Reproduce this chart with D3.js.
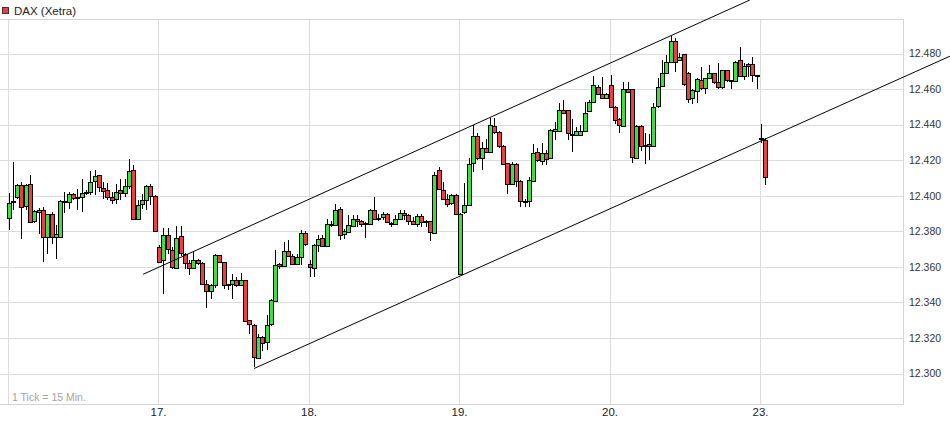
<!DOCTYPE html>
<html><head><meta charset="utf-8">
<script src="https://cdn.jsdelivr.net/npm/d3@7"></script>
<style>body{margin:0;background:#fff;} svg{display:block;font-family:"Liberation Sans",Arial,sans-serif;}</style>
</head><body><svg id="c" width="950" height="422"></svg>
<script>
// ---- data ----
const title = "DAX (Xetra)";
const tickNote = "1 Tick = 15 Min.";
const dayLabels = ["16.", "17.", "18.", "19.", "20.", "23."];
const dayLabelShown = [false, true, true, true, true, true];
const slotsPerDay = 35;
const yTicks = [12300, 12320, 12340, 12360, 12380, 12400, 12420, 12440, 12460, 12480];
// [open, high, low, close] per 15-min candle
const day16 = [
 [12387.7,12401.7,12380.5,12396.1],[12396.3,12418.7,12391.8,12396.8],[12398.9,12406.8,12398.4,12405.9],[12406.3,12407.8,12375.5,12393.7],
 [12394.2,12406.8,12391.8,12405.9],[12406.8,12411.5,12384.7,12385.2],[12385.8,12392.2,12384.7,12391.2],[12391.0,12393.3,12378.7,12392.2],
 [12392.2,12393.7,12362.7,12376.8],[12376.8,12389.9,12367.4,12389.5],[12389.9,12390.9,12373.0,12376.8],[12376.8,12383.3,12364.6,12378.6],
 [12376.8,12397.4,12376.5,12396.9],[12396.9,12402.1,12390.3,12396.5],[12396.5,12402.1,12392.7,12401.2],[12401.2,12401.5,12397.4,12398.9],
 [12399.3,12404.0,12391.8,12399.0],[12399.3,12409.3,12390.9,12401.7],[12401.8,12403.1,12400.3,12402.2],[12402.2,12414.0,12400.3,12407.8],
 [12408.3,12414.3,12400.3,12411.1],[12411.5,12411.8,12402.1,12404.6],[12404.6,12407.8,12398.4,12403.1],[12403.1,12407.4,12397.4,12399.3],
 [12399.3,12402.1,12395.6,12397.8],[12398.0,12406.8,12395.6,12402.1],[12403.1,12409.6,12397.4,12401.2],[12401.2,12409.6,12399.3,12405.3],
 [12405.3,12420.9,12404.0,12414.0],[12414.7,12417.1,12386.2,12387.1],[12387.1,12397.4,12386.2,12395.0],[12395.0,12401.2,12392.7,12397.4],
 [12397.4,12405.9,12391.8,12405.3],[12405.7,12406.8,12394.6,12399.9],[12400.1,12400.5,12380.2,12380.5]
];
const day17 = [
 [12371.2,12372.5,12362.0,12362.7],[12363.7,12382.0,12344.9,12377.7],[12377.7,12382.0,12367.0,12369.7],[12369.7,12371.0,12359.0,12360.3],
 [12359.5,12382.8,12359.0,12376.4],[12377.2,12382.8,12366.0,12367.4],[12367.4,12368.0,12359.0,12362.2],[12362.2,12363.7,12355.2,12359.5],
 [12359.5,12368.4,12359.0,12364.0],[12364.0,12364.3,12360.9,12362.2],[12362.2,12363.0,12349.6,12350.5],[12350.1,12352.4,12337.0,12346.2],
 [12346.2,12350.5,12342.1,12349.6],[12349.6,12367.0,12348.0,12366.5],[12366.5,12366.8,12362.0,12362.7],[12362.7,12363.0,12347.7,12349.9],
 [12350.2,12350.5,12347.0,12349.6],[12349.9,12356.2,12342.1,12352.4],[12352.4,12354.3,12348.7,12349.6],[12349.6,12356.7,12349.0,12352.4],
 [12352.4,12352.6,12329.0,12329.3],[12329.9,12330.0,12322.3,12327.6],[12327.4,12328.0,12303.6,12309.2],[12308.8,12322.0,12308.5,12320.8],
 [12320.8,12321.0,12312.6,12317.6],[12317.6,12332.7,12313.0,12327.4],[12327.4,12342.0,12327.0,12341.1],[12340.6,12369.3,12340.0,12360.8],
 [12361.4,12362.0,12359.0,12360.5],[12360.5,12374.0,12359.9,12368.9],[12368.9,12374.9,12365.5,12366.1],[12366.1,12367.0,12360.9,12361.8],
 [12361.8,12367.4,12361.0,12365.5],[12365.5,12380.6,12360.9,12379.1],[12379.1,12380.0,12372.0,12372.7]
];
const day18 = [
 [12361.4,12363.7,12354.3,12359.5],[12359.5,12373.0,12354.3,12372.5],[12372.5,12377.7,12368.4,12375.9],[12376.4,12377.7,12371.0,12371.7],
 [12371.7,12387.1,12371.0,12384.3],[12384.0,12386.0,12382.4,12384.3],[12383.9,12395.6,12383.4,12392.2],[12392.8,12393.7,12374.9,12378.3],
 [12378.3,12381.5,12375.9,12380.0],[12380.0,12389.0,12379.0,12383.8],[12383.4,12389.0,12383.0,12387.1],[12386.8,12389.0,12382.4,12385.6],
 [12386.0,12386.2,12382.4,12384.3],[12384.3,12385.3,12376.2,12384.4],[12384.3,12392.5,12384.0,12392.2],[12392.2,12399.3,12386.6,12387.1],
 [12387.7,12390.0,12386.0,12387.5],[12387.7,12390.9,12386.2,12389.6],[12389.6,12390.5,12384.5,12384.9],[12384.7,12385.0,12382.4,12384.7],
 [12384.3,12389.0,12384.0,12387.1],[12386.9,12391.8,12386.6,12390.3],[12390.3,12391.8,12386.6,12389.0],[12389.0,12390.0,12383.4,12385.8],
 [12385.8,12388.1,12383.4,12383.9],[12383.9,12390.0,12382.4,12388.6],[12388.6,12390.0,12382.4,12385.3],[12385.6,12386.6,12382.4,12385.6],
 [12385.6,12386.0,12374.4,12379.2],[12379.2,12413.4,12379.0,12411.9],[12414.4,12416.2,12403.0,12403.5],[12403.5,12407.8,12397.8,12398.4],
 [12398.4,12401.2,12393.7,12395.6],[12395.6,12401.2,12395.0,12400.3],[12400.3,12401.0,12389.0,12389.6]
];
const day19 = [
 [12356.2,12390.5,12355.2,12390.0],[12390.9,12407.3,12390.0,12394.7],[12395.0,12421.0,12394.5,12417.8],[12418.2,12439.7,12413.5,12433.6],
 [12433.6,12435.1,12420.0,12421.0],[12421.0,12430.4,12414.4,12426.6],[12426.6,12431.7,12424.0,12424.3],[12424.3,12443.5,12424.0,12439.7],
 [12439.2,12443.5,12435.0,12436.0],[12436.0,12436.5,12427.0,12428.1],[12428.1,12428.5,12417.2,12417.8],[12418.2,12418.5,12401.2,12406.5],
 [12406.5,12419.1,12406.0,12417.8],[12417.8,12418.5,12405.0,12408.4],[12408.4,12409.0,12393.4,12397.1],[12397.1,12398.0,12393.7,12397.3],
 [12397.1,12410.6,12393.7,12408.8],[12408.4,12428.9,12408.0,12424.2],[12424.7,12427.0,12419.0,12420.0],[12420.0,12429.4,12417.2,12424.3],
 [12424.3,12425.6,12417.2,12421.0],[12421.0,12437.3,12420.5,12436.9],[12436.3,12441.6,12431.2,12437.5],[12436.9,12451.9,12436.5,12448.5],
 [12448.5,12453.8,12446.3,12446.8],[12448.1,12448.5,12431.2,12435.0],[12434.0,12442.9,12424.7,12434.6],[12434.0,12438.7,12433.5,12436.5],
 [12434.0,12439.7,12433.5,12436.5],[12436.9,12452.8,12436.5,12446.8],[12447.8,12454.1,12447.0,12452.8],[12452.8,12467.3,12452.0,12462.2],
 [12461.3,12462.2,12456.6,12457.5],[12457.5,12466.9,12455.0,12455.3],[12455.3,12458.0,12455.0,12457.5]
];
const day20 = [
 [12462.2,12467.8,12449.5,12450.0],[12450.0,12450.5,12440.6,12442.9],[12442.9,12443.5,12435.4,12439.3],[12439.3,12464.1,12439.0,12460.3],
 [12460.3,12464.1,12458.0,12458.8],[12459.8,12460.0,12418.5,12421.5],[12421.5,12440.0,12421.0,12439.3],[12439.3,12440.0,12425.0,12427.8],
 [12427.8,12435.4,12418.1,12428.4],[12429.3,12434.6,12420.0,12428.2],[12428.2,12451.9,12428.0,12450.0],[12450.0,12466.0,12449.5,12460.9],
 [12462.2,12476.3,12461.0,12469.3],[12469.3,12479.1,12469.0,12475.4],[12475.4,12489.8,12475.0,12487.2],[12487.2,12489.0,12469.7,12475.4],
 [12476.3,12480.1,12476.0,12478.2],[12479.7,12480.0,12462.0,12462.8],[12469.2,12469.5,12451.9,12454.7],[12454.7,12460.3,12451.5,12459.4],
 [12458.8,12466.0,12451.9,12465.4],[12465.0,12472.2,12459.5,12460.3],[12460.3,12466.5,12457.5,12466.0],[12466.0,12473.5,12465.5,12468.8],
 [12468.8,12469.0,12463.0,12463.7],[12463.7,12474.4,12460.0,12460.9],[12460.9,12471.0,12459.8,12470.7],[12470.7,12471.0,12464.0,12465.0],
 [12465.0,12465.2,12459.8,12464.6],[12464.5,12476.0,12464.0,12475.4],[12476.3,12483.8,12467.0,12467.5],[12467.5,12474.4,12465.0,12473.1],
 [12473.9,12474.4,12466.9,12472.9],[12473.9,12478.2,12464.1,12467.8],[12467.8,12468.0,12460.3,12467.8]
];
const day23 = [
 [12432.2,12440.6,12429.4,12432.0],[12431.6,12432.2,12405.9,12410.9]
];
const days = [day16, day17, day18, day19, day20, day23];
// trend channel anchors: [slot index, price]
const upperTrend = [[31.3, 12355.8], [172.4, 12510.1]];
const lowerTrend = [[57.1, 12302.8], [218.95, 12478.5]];

// ---- build ----
const candles = [];
days.forEach((arr, d) => arr.forEach((c, s) => candles.push({i: d * slotsPerDay + s, o: c[0], h: c[1], l: c[2], c: c[3]})));

const svg = d3.select("#c");
const W = 950, H = 422;
const plotL = 0, plotR = 903, plotT = 19, plotB = 404;
const x = d3.scaleLinear().domain([0, 175]).range([8.5, 761]);
const y = d3.scaleLinear().domain([12300, 12480]).range([373.5, 53.5]);
const loc = d3.formatLocale({decimal: ",", thousands: ".", grouping: [3], currency: ["", "€"]});
const fmt = loc.format(",.0f");

const grid = svg.append("g").attr("shape-rendering", "crispEdges");
// horizontal grid
grid.selectAll("line.h").data(yTicks).join("line")
  .attr("x1", plotL).attr("x2", plotR)
  .attr("y1", d => Math.round(y(d)) + 0.5).attr("y2", d => Math.round(y(d)) + 0.5)
  .attr("stroke", "#dcdcdc");
// vertical day lines
const dayStarts = dayLabels.map((_, d) => d * slotsPerDay);
grid.selectAll("line.v").data(dayStarts).join("line")
  .attr("x1", d => Math.round(x(d) - 1) + 0.5).attr("x2", d => Math.round(x(d) - 1) + 0.5)
  .attr("y1", plotT).attr("y2", plotB)
  .attr("stroke", "#dcdcdc");
// frame (top, right, bottom)
grid.append("path")
  .attr("d", `M${plotL},${plotT + 0.5}H${plotR + 0.5}V${plotB + 0.5}H${plotL}`)
  .attr("fill", "none").attr("stroke", "#d4d4d4");

// right axis labels
const yAxis = d3.axisRight(y).tickValues(yTicks).tickSize(0).tickPadding(6).tickFormat(fmt);
const ya = svg.append("g").attr("transform", `translate(${plotR},0)`).call(yAxis);
ya.select(".domain").remove();
ya.selectAll("text").attr("font-size", 10.5).attr("fill", "#333").attr("font-family", "'Liberation Sans', Arial, sans-serif");

// bottom axis labels
const xAxis = d3.axisBottom(x).tickValues(dayStarts.filter((_, d) => dayLabelShown[d]))
  .tickSize(0).tickPadding(4).tickFormat(v => dayLabels[v / slotsPerDay]);
const xa = svg.append("g").attr("transform", `translate(-1,${plotB})`).call(xAxis);
xa.select(".domain").remove();
xa.selectAll("text").attr("font-size", 11.5).attr("fill", "#222").attr("font-family", "'Liberation Sans', Arial, sans-serif");

// tick note
svg.append("text").attr("x", 12).attr("y", 401).attr("font-size", 10.5).attr("fill", "#a7a39c").text(tickNote);

// legend
svg.append("rect").attr("x", 2.5).attr("y", 7.5).attr("width", 6).attr("height", 6)
  .attr("fill", "#ee3e3e").attr("stroke", "#333").attr("shape-rendering", "crispEdges");
svg.append("text").attr("x", 14).attr("y", 15).attr("font-size", 11.5).attr("fill", "#222").text(title);

// candles
const cg = svg.append("g").attr("shape-rendering", "crispEdges");
cg.selectAll("line.w").data(candles).join("line")
  .attr("x1", d => Math.round(x(d.i)) + 0.5).attr("x2", d => Math.round(x(d.i)) + 0.5)
  .attr("y1", d => y(d.h)).attr("y2", d => y(d.l))
  .attr("stroke", "#000");
cg.selectAll("rect.b").data(candles).join("rect")
  .attr("x", d => Math.round(x(d.i)) - 1.5)
  .attr("width", 4)
  .attr("y", d => Math.round(y(Math.max(d.o, d.c))) + 0.5)
  .attr("height", d => Math.max(Math.round(Math.abs(y(d.o) - y(d.c))), 0.5))
  .attr("fill", d => d.c >= d.o ? "#3be23b" : "#ee3e3e")
  .attr("stroke", "#000").attr("stroke-width", 1);

// trend channel
const tl = d3.line().x(p => x(p[0])).y(p => y(p[1]));
[upperTrend, lowerTrend].forEach(t => svg.append("path").attr("d", tl(t)).attr("fill", "none").attr("stroke", "#000").attr("stroke-width", 1));
</script></body></html>
